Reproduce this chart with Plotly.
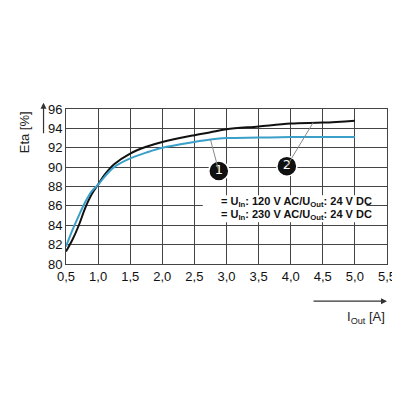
import plotly.graph_objects as go

# efficiency curves
i_out = [0.5, 0.6, 0.7, 0.8, 0.9, 1.0, 1.1, 1.25, 1.5, 1.75, 2.0, 2.5, 2.75, 3.0, 3.5, 4.0, 4.5, 5.0]
eta_120 = [81.8, 83.5, 85.0, 86.4, 87.5, 88.2, 89.0, 90.0, 90.9, 91.5, 92.0, 92.6, 92.85, 93.0, 93.05, 93.1, 93.1, 93.1]
eta_230 = [81.3, 82.5, 84.0, 85.8, 87.2, 88.2, 89.2, 90.3, 91.4, 92.1, 92.6, 93.3, 93.6, 93.9, 94.2, 94.5, 94.6, 94.8]
x_ticks = [0.5, 1.0, 1.5, 2.0, 2.5, 3.0, 3.5, 4.0, 4.5, 5.0, 5.5]
y_ticks = [80, 82, 84, 86, 88, 90, 92, 94, 96]

fig = go.Figure()
fig.add_trace(go.Scatter(x=i_out, y=eta_230, mode="lines", line=dict(color="#111111", width=2, shape="spline")))
fig.add_trace(go.Scatter(x=i_out, y=eta_120, mode="lines", line=dict(color="#3a9fc9", width=2, shape="spline")))

# callout circles with leader lines
for (x0, y0, x1, y1, lab) in [(2.75, 92.85, 2.88, 89.6, "1"), (4.35, 94.6, 3.94, 90.1, "2")]:
    fig.add_shape(type="line", x0=x0, y0=y0, x1=x1, y1=y1, line=dict(color="#888888", width=1))
    fig.add_trace(go.Scatter(x=[x1], y=[y1], mode="markers+text", text=[lab],
                             marker=dict(size=20, color="#111111", line=dict(color="white", width=1.5)),
                             textfont=dict(color="white", size=13, family="Arial Black, DejaVu Sans")))

# legend box
fig.add_shape(type="rect", x0=2.63, x1=5.18, y0=84.3, y1=87.1, fillcolor="white", line=dict(width=0), layer="above")
for y, lab, txt in [(86.35, "1", "120"), (85.05, "2", "230")]:
    fig.add_trace(go.Scatter(x=[2.78], y=[y], mode="markers+text", text=[lab],
                             marker=dict(size=12, color="#111111"),
                             textfont=dict(color="white", size=9, family="DejaVu Sans")))
    fig.add_annotation(x=2.88, y=y, xanchor="left", showarrow=False,
                       text=f"<b>= U<sub>In</sub>: {txt} V AC/U<sub>Out</sub>: 24 V DC</b>",
                       font=dict(size=11, color="#111111"))

# axis titles with arrows
fig.add_annotation(xref="paper", yref="paper", x=-0.13, y=1.0, xanchor="center", yanchor="top",
                   text="Eta [%]", textangle=-90, showarrow=False, font=dict(size=13, color="#222"))
fig.add_annotation(xref="paper", yref="paper", x=-0.07, y=1.04, ax=0, ay=32,
                   showarrow=True, arrowhead=2, arrowsize=1, arrowwidth=1.2, arrowcolor="#333", text="")
fig.add_annotation(xref="paper", yref="paper", x=1.0, y=-0.28, xanchor="right", yanchor="top",
                   text="I<sub>Out</sub> [A]", showarrow=False, font=dict(size=13, color="#222"))
fig.add_annotation(xref="paper", yref="paper", x=1.0, y=-0.24, ax=-75, ay=0,
                   showarrow=True, arrowhead=2, arrowsize=1, arrowwidth=1.2, arrowcolor="#333", text="")

fig.update_xaxes(range=[0.5, 5.5], tickvals=x_ticks, ticktext=[f"{v:.1f}".replace(".", ",") for v in x_ticks],
                 showgrid=True, gridcolor="#444", gridwidth=1, zeroline=False,
                 showline=True, linecolor="#444", mirror=True, tickfont=dict(size=13, color="#111"))
fig.update_yaxes(range=[80, 96], tickvals=y_ticks, showgrid=True, gridcolor="#444", gridwidth=1, zeroline=False,
                 showline=True, linecolor="#444", mirror=True, tickfont=dict(size=13, color="#111"))
fig.update_layout(width=400, height=400, showlegend=False, plot_bgcolor="white", paper_bgcolor="white",
                  margin=dict(l=58, r=16, t=101, b=144), font=dict(family="Arial, Liberation Sans"))
fig.write_html("out.html")
